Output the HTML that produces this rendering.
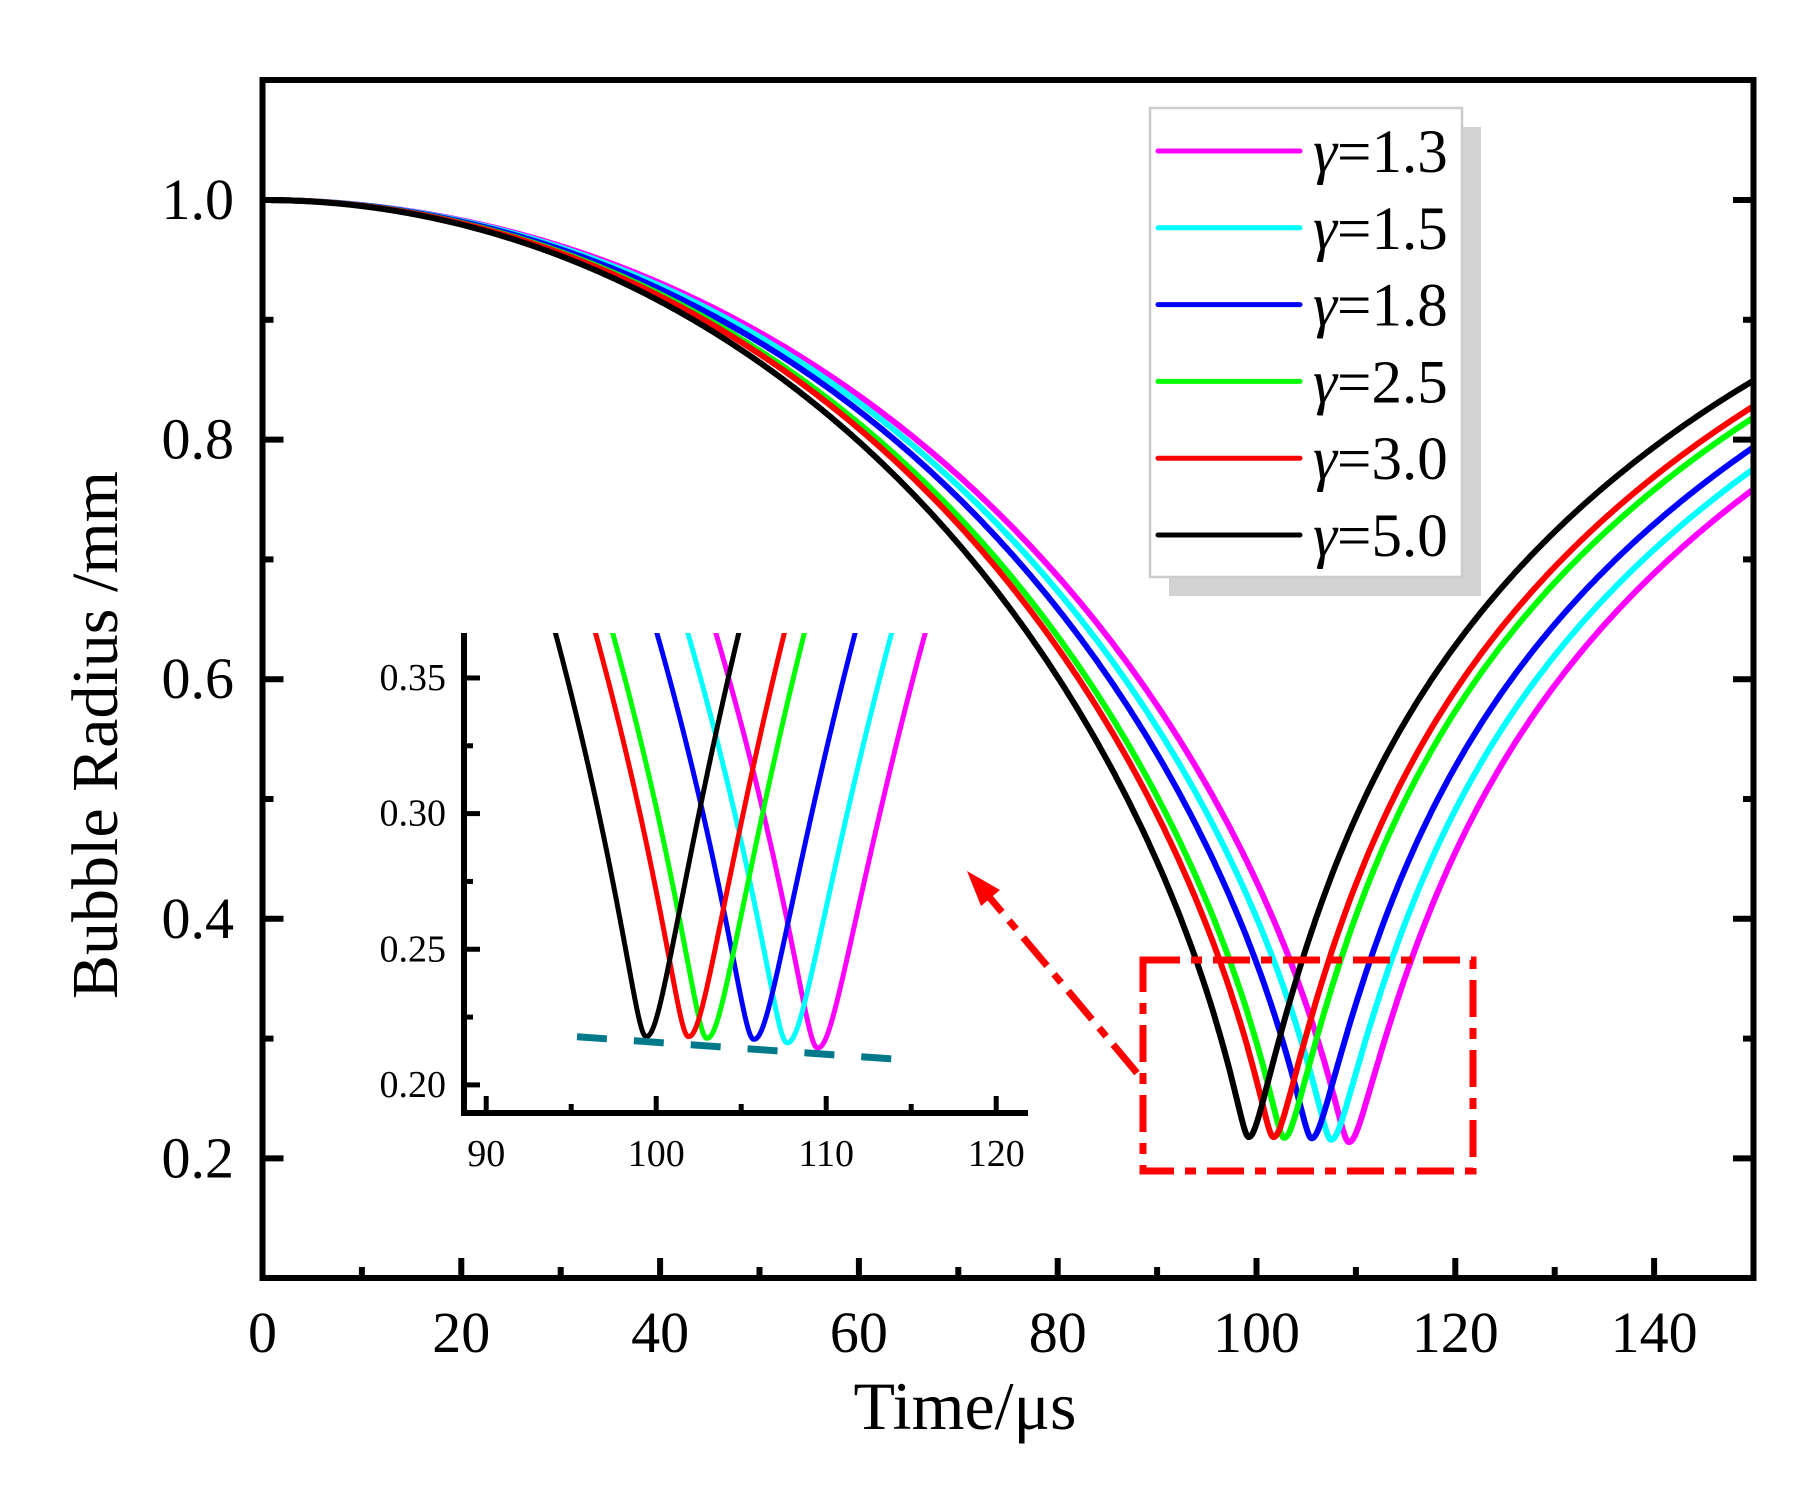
<!DOCTYPE html>
<html><head><meta charset="utf-8"><style>
html,body{margin:0;padding:0;background:#fff}
svg{display:block}
text{font-family:"Liberation Serif",serif;fill:#000}
</style></head><body>
<svg id="s" width="1810" height="1492" viewBox="0 0 1810 1492" xmlns="http://www.w3.org/2000/svg">
<defs>
<clipPath id="cm"><rect x="262" y="80" width="1492" height="1198"/></clipPath>
<clipPath id="ci"><rect x="464" y="633" width="564" height="480"/></clipPath>
</defs>
<rect width="1810" height="1492" fill="#fff"/>
<g id="main" clip-path="url(#cm)"></g>
<g id="inset" clip-path="url(#ci)"></g>
<line x1="577" y1="1036.7" x2="893" y2="1059" stroke="#007a8a" stroke-width="7" stroke-dasharray="30,27"/>
<rect x="1143" y="960" width="330" height="211" fill="none" stroke="#ff0000" stroke-width="7" stroke-dasharray="37,11,11,11"/>
<line x1="1137" y1="1073" x2="985" y2="892" stroke="#ff0000" stroke-width="7" stroke-dasharray="37,11,11,11"/>
<polygon points="967,871 1000,890 981,906" fill="#ff0000"/>
<g id="axes"></g>
<rect x="1169" y="127" width="312" height="469" fill="#d3d3d3"/>
<rect x="1150" y="108" width="312" height="469" fill="#fff" stroke="#cccccc" stroke-width="2.5"/>
<g id="leg"></g>
<text x="965" y="1429" font-size="68" text-anchor="middle">Time/μs</text>
<text transform="translate(117,735) rotate(-90)" font-size="66" text-anchor="middle">Bubble Radius /mm</text>
</svg>
<script>
(function(){
var NS="http://www.w3.org/2000/svg";
function el(p,tag,attrs,txt){var e=document.createElementNS(NS,tag);for(var k in attrs)e.setAttribute(k,attrs[k]);if(txt!=null)e.textContent=txt;p.appendChild(e);return e;}
var cur=[["#ff00ff",109.49,.2136,"1.3"],["#00ffff",107.70,.2155,"1.5"],["#0000ff",105.74,.2168,"1.8"],["#00ff00",102.98,.2172,"2.5"],["#ff0000",101.9,.2178,"3.0"],["#000000",99.41,.2178,"5.0"]];
var C=0.01;
function R(t,tm,rm){var f=tm/99.41,Y;
 if(t<tm){var x=Math.max(1-(t/tm)*(t/tm),0);var p=1.04-0.04*Math.exp(-x/0.15);Y=Math.pow(x,p);}
 else{var s=(t-tm)/Math.pow(f,1.4),T=120,u=1-s/T;var xr=1-u*u;var p2=0.85+0.2*Math.exp(-s/8);Y=Math.pow(xr,p2);}
 var Ye=Math.sqrt(Y*Y+C*C)-C; var Y1=Math.sqrt(1+C*C)-C;
 Ye=Ye/Y1;
 return Math.sqrt(rm*rm+(1-rm*rm)*Ye);}
var gm=document.getElementById("main"),gi=document.getElementById("inset");
cur.forEach(function(c){
 var tm=c[1]-0.2,p=[];for(var t=0;t<=150.5;t+=0.1){var r=R(t,tm,c[2]);p.push((262.5+9.94*t).toFixed(1)+","+(200+(1-r)*1198).toFixed(1));}
 el(gm,"polyline",{points:p.join(" "),fill:"none",stroke:c[0],"stroke-width":6,"stroke-linejoin":"round"});
 var q=[];for(t=88.5;t<=122;t+=0.02){r=R(t,c[1],c[2]);if(r>0.38)continue;q.push((486.2+17*(t-90)).toFixed(1)+","+(1084.9-(r-0.2)*2713).toFixed(1));}
 el(gi,"polyline",{points:q.join(" "),fill:"none",stroke:c[0],"stroke-width":5,"stroke-linejoin":"round"});
});
var ga=document.getElementById("axes");
el(ga,"rect",{x:262.5,y:80,width:1491,height:1198,fill:"none",stroke:"#000","stroke-width":6});
for(var v=0;v<=150;v+=10){var x=262.5+9.94*v,L=(v%20==0)?20:11;
 el(ga,"line",{x1:x,y1:1278,x2:x,y2:1278-L,stroke:"#000","stroke-width":6});
 if(v%20==0)el(ga,"text",{x:x,y:1352,"font-size":58,"text-anchor":"middle"},String(v));}
for(var k=1;k<=10;k++){var rv=0.1*k+0.1,y=200+(1-rv)*1198,maj=(k%2==1);var L=maj?21:11;
 if(y<85||y>1273)continue;
 el(ga,"line",{x1:262.5,y1:y,x2:262.5+L,y2:y,stroke:"#000","stroke-width":6});
 el(ga,"line",{x1:1754,y1:y,x2:1754-L,y2:y,stroke:"#000","stroke-width":6});
 if(maj)el(ga,"text",{x:234,y:y+19,"font-size":58,"text-anchor":"end"},rv.toFixed(1));}
el(ga,"polyline",{points:"464,633 464,1113 1028,1113",fill:"none",stroke:"#000","stroke-width":6});
for(v=90;v<=120;v+=5){x=486.2+17*(v-90);L=(v%10==0)?17:9;
 el(ga,"line",{x1:x,y1:1113,x2:x,y2:1113-L,stroke:"#000","stroke-width":5});
 if(v%10==0)el(ga,"text",{x:x,y:1166,"font-size":38,"text-anchor":"middle"},String(v));}
for(k=0;k<7;k++){rv=0.2+0.025*k;y=1084.9-(rv-0.2)*2713;maj=(k%2==0);L=maj?16:9;
 el(ga,"line",{x1:464,y1:y,x2:464+L,y2:y,stroke:"#000","stroke-width":5});
 if(maj)el(ga,"text",{x:446,y:y+12,"font-size":38,"text-anchor":"end"},rv.toFixed(2));}
var gl=document.getElementById("leg");
cur.forEach(function(c,i){var y=151+76.8*i;
 el(gl,"line",{x1:1158,y1:y,x2:1300,y2:y,stroke:c[0],"stroke-width":5,"stroke-linecap":"round"});
 var t=el(gl,"text",{x:1313,y:y+21,"font-size":61});
 el(t,"tspan",{"font-style":"italic"},"γ");el(t,"tspan",{},"=" + c[3]);});
})();
</script>
</body></html>
